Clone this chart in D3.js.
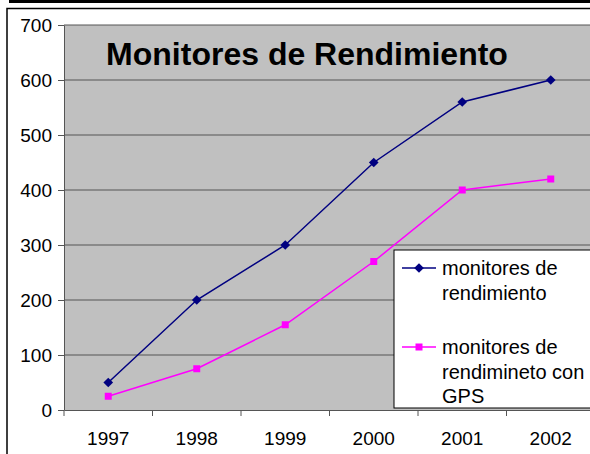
<!DOCTYPE html>
<html>
<head>
<meta charset="utf-8">
<script src="https://cdn.jsdelivr.net/npm/d3@7"></script>
<style>
  body { margin: 0; background: #fff; }
  svg { display: block; font-family: "Liberation Sans", Arial, sans-serif; }
</style>
</head>
<body>
<div id="visContainer"></div>
<script>
// chart values
const years = ["1997", "1998", "1999", "2000", "2001", "2002"];
const monitores = [50, 200, 300, 450, 560, 600];
const monitoresGPS = [25, 75, 155, 270, 400, 420];
const yTicks = [0, 100, 200, 300, 400, 500, 600, 700];
const seriesNames = ["monitores de rendimiento", "monitores de rendimineto con GPS"];

const width = 590;
const height = 454;
const margin = { top: 25, right: -5, bottom: 44, left: 64 };

const svg = d3.select("#visContainer")
  .append("svg")
  .attr("width", width)
  .attr("height", height);

// top heavy rule + outer frame
svg.append("rect").attr("x", 9).attr("y", 0).attr("width", width).attr("height", 3).attr("fill", "#000");
svg.append("path")
  .attr("d", `M7,${height} V8.5 H${width}`)
  .attr("fill", "none").attr("stroke", "#000").attr("stroke-width", 1.5);

const xScale = d3.scaleBand()
  .domain(years)
  .range([margin.left, width - margin.right]);

const yScale = d3.scaleLinear()
  .domain([0, 700])
  .range([height - margin.bottom, margin.top]);

// plot area
svg.append("rect")
  .attr("x", margin.left)
  .attr("y", margin.top)
  .attr("width", width - margin.right - margin.left)
  .attr("height", yScale(0) - margin.top)
  .attr("fill", "#c0c0c0");

// gridlines
svg.append("g")
  .selectAll("line")
  .data(yTicks.filter(d => d > 0))
  .join("line")
  .attr("x1", margin.left)
  .attr("x2", width)
  .attr("y1", d => yScale(d))
  .attr("y2", d => yScale(d))
  .attr("stroke", "#555")
  .attr("stroke-width", 1);

// y axis
const yAxis = svg.append("g")
  .attr("transform", `translate(${margin.left},0)`)
  .call(d3.axisLeft(yScale).tickValues(yTicks).tickSize(6).tickPadding(6).tickSizeOuter(0));
yAxis.select(".domain").attr("stroke", "#555");
yAxis.selectAll(".tick line").attr("stroke", "#555");
yAxis.selectAll("text").attr("font-size", 19).attr("fill", "#000").attr("font-family", "Liberation Sans, Arial, sans-serif");

// x axis
const xAxis = svg.append("g")
  .attr("transform", `translate(0,${yScale(0)})`)
  .call(d3.axisBottom(xScale).tickSize(0).tickPadding(22));
xAxis.select(".domain").attr("stroke", "#555");
xAxis.selectAll("text").attr("font-size", 19).attr("fill", "#000").attr("font-family", "Liberation Sans, Arial, sans-serif");
// tick marks between categories
xAxis.selectAll(".sep")
  .data(years)
  .join("line")
  .attr("class", "sep")
  .attr("x1", d => xScale(d))
  .attr("x2", d => xScale(d))
  .attr("y1", 0)
  .attr("y2", 6)
  .attr("stroke", "#555");

const cx = d => xScale(d) + xScale.bandwidth() / 2;

const line = d3.line()
  .x((d, i) => cx(years[i]))
  .y(d => yScale(d));

// series 1: navy diamonds
svg.append("path")
  .datum(monitores)
  .attr("d", line)
  .attr("fill", "none")
  .attr("stroke", "#000080")
  .attr("stroke-width", 1.5);
svg.append("g")
  .selectAll("path")
  .data(monitores)
  .join("path")
  .attr("d", d3.symbol(d3.symbolDiamond2, 60))
  .attr("transform", (d, i) => `translate(${cx(years[i])},${yScale(d)})`)
  .attr("fill", "#000080");

// series 2: magenta squares
svg.append("path")
  .datum(monitoresGPS)
  .attr("d", line)
  .attr("fill", "none")
  .attr("stroke", "#ff00ff")
  .attr("stroke-width", 1.5);
svg.append("g")
  .selectAll("rect")
  .data(monitoresGPS)
  .join("rect")
  .attr("x", (d, i) => cx(years[i]) - 3.5)
  .attr("y", d => yScale(d) - 3.5)
  .attr("width", 7)
  .attr("height", 7)
  .attr("fill", "#ff00ff");

// title
svg.append("text")
  .attr("x", 307)
  .attr("y", 65)
  .attr("text-anchor", "middle")
  .attr("font-size", 32)
  .attr("font-weight", "bold")
  .text("Monitores de Rendimiento");

// legend
const lg = svg.append("g").attr("transform", "translate(394,250)");
lg.append("rect")
  .attr("x", 0).attr("y", 0)
  .attr("width", 210).attr("height", 158)
  .attr("fill", "#fff").attr("stroke", "#000").attr("stroke-width", 1);

const legendRows = [
  { lines: ["monitores de", "rendimiento"], y: 18, color: "#000080", shape: "diamond" },
  { lines: ["monitores de", "rendimineto con", "GPS"], y: 97, color: "#ff00ff", shape: "square" }
];

legendRows.forEach((r, k) => {
  const g = lg.append("g");
  g.append("line")
    .attr("x1", 8).attr("x2", 42)
    .attr("y1", r.y).attr("y2", r.y)
    .attr("stroke", r.color).attr("stroke-width", 1.5);
  if (r.shape === "diamond") {
    g.append("path")
      .attr("d", d3.symbol(d3.symbolDiamond2, 60))
      .attr("transform", `translate(25,${r.y})`)
      .attr("fill", r.color);
  } else {
    g.append("rect")
      .attr("x", 21.5).attr("y", r.y - 3.5)
      .attr("width", 7).attr("height", 7)
      .attr("fill", r.color);
  }
  g.append("text")
    .attr("x", 48)
    .attr("y", r.y + 7)
    .attr("font-size", 20)
    .selectAll("tspan")
    .data(r.lines)
    .join("tspan")
    .attr("x", 48)
    .attr("dy", (d, i) => i === 0 ? 0 : 24.5)
    .text(d => d);
});
</script>
</body>
</html>
